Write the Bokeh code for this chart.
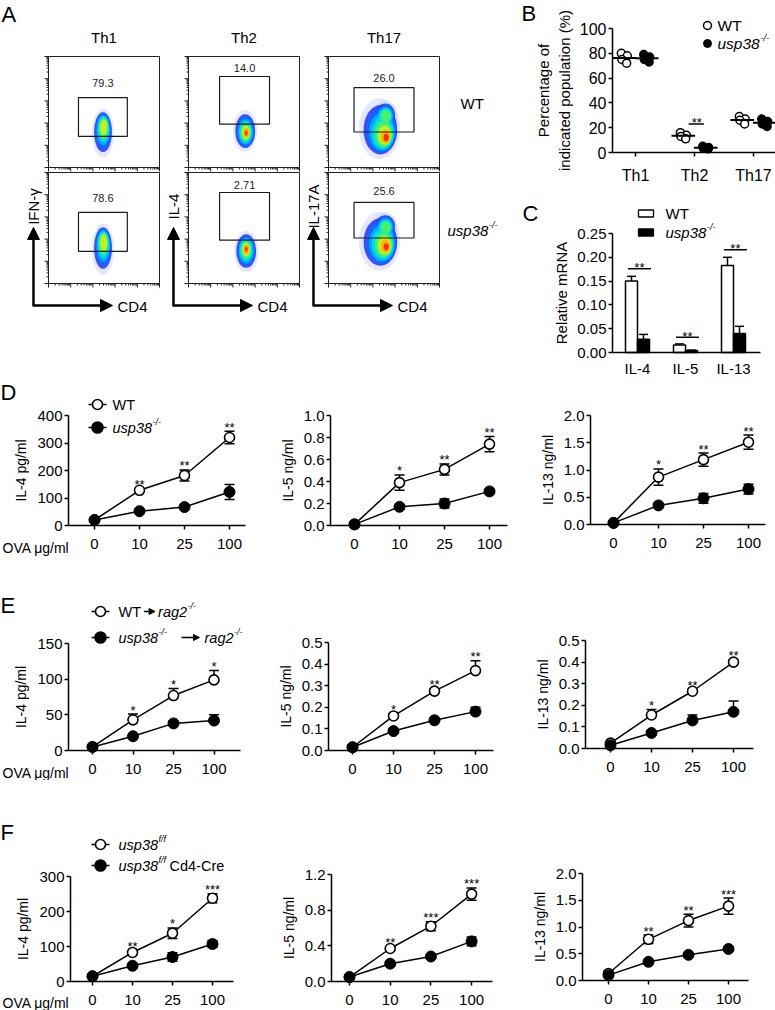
import numpy as np
from bokeh.plotting import figure
from bokeh.layouts import row, column
from bokeh.models import (Range1d, FixedTicker, NumeralTickFormatter, Label, Arrow,
                          NormalHead, TeeHead, Whisker, ColumnDataSource)
from bokeh.core.properties import value
from bokeh.embed import file_html
from bokeh.resources import INLINE

FONT = "Liberation Sans"

# ---------------- data ----------------
# Panel A (flow cytometry)
a_cols = ["Th1", "Th2", "Th17"]
a_gate_labels = [["79.3", "14.0", "26.0"], ["78.6", "2.71", "25.6"]]
a_gate_x = [[0.27, 0.71], [0.28, 0.73], [0.23, 0.77]]
a_gate_y = [[[0.28, 0.63], [0.39, 0.82], [0.32, 0.72]],
            [[0.29, 0.64], [0.39, 0.82], [0.41, 0.73]]]
a_label_y = [[0.76, 0.90, 0.81], [0.77, 0.89, 0.83]]
a_y_labels = ["IFN-γ", "IL-4", "IL-17A"]
# clusters: (centre u, centre v, radius u, radius v, core u, core v, levels)
a_clusters = [
    [[(0.49, 0.31, 0.09, 0.20, 0.50, 0.38, 7)],
     [(0.51, 0.33, 0.10, 0.17, 0.52, 0.31, 9)],
     [(0.46, 0.35, 0.17, 0.25, 0.52, 0.27, 9), (0.51, 0.47, 0.10, 0.12, 0.52, 0.46, 6)]],
    [[(0.49, 0.31, 0.09, 0.21, 0.50, 0.39, 7)],
     [(0.52, 0.29, 0.10, 0.17, 0.52, 0.31, 9)],
     [(0.46, 0.38, 0.17, 0.24, 0.52, 0.33, 9), (0.51, 0.52, 0.10, 0.11, 0.52, 0.50, 6)]],
]

# Panel B
b_groups = ["Th1", "Th2", "Th17"]
b_wt = [[80, 78, 75, 72], [16, 14, 13, 11], [29, 27, 26, 23]]
b_ko = [[79, 77, 75, 73], [5, 4, 3.5, 3], [27, 25, 23, 21]]
b_sig_y = 23

# Panel C
c_genes = ["IL-4", "IL-5", "IL-13"]
c_wt = [0.150, 0.016, 0.183]
c_wt_err = [0.010, 0.002, 0.017]
c_ko = [0.028, 0.004, 0.040]
c_ko_err = [0.010, 0.001, 0.015]
c_sig_y = [0.176, 0.032, 0.216]

# Panels D-F
doses = ["0", "10", "25", "100"]
d_il4_wt = [20, 128, 182, 320]; d_il4_wt_err = [5, 5, 20, 23]
d_il4_ko = [20, 52, 67, 122]; d_il4_ko_err = [4, 5, 6, 27]
d_il5_wt = [0.01, 0.39, 0.51, 0.74]; d_il5_wt_err = [0.01, 0.07, 0.05, 0.07]
d_il5_ko = [0.01, 0.17, 0.20, 0.31]; d_il5_ko_err = [0.01, 0.02, 0.04, 0.02]
d_il13_wt = [0.03, 0.87, 1.19, 1.51]; d_il13_wt_err = [0.02, 0.15, 0.12, 0.13]
d_il13_ko = [0.03, 0.35, 0.48, 0.65]; d_il13_ko_err = [0.02, 0.03, 0.09, 0.09]
d_stars = [["", "**", "**", "**"], ["", "*", "**", "**"], ["", "*", "**", "**"]]

e_il4_wt = [5, 43, 77, 99]; e_il4_wt_err = [2, 8, 10, 13]
e_il4_ko = [5, 20, 38, 42]; e_il4_ko_err = [2, 3, 3, 8]
e_il5_wt = [0.015, 0.16, 0.275, 0.37]; e_il5_wt_err = [0.005, 0.01, 0.01, 0.045]
e_il5_ko = [0.015, 0.09, 0.14, 0.18]; e_il5_ko_err = [0.005, 0.01, 0.01, 0.02]
e_il13_wt = [0.025, 0.155, 0.265, 0.40]; e_il13_wt_err = [0.005, 0.025, 0.01, 0.01]
e_il13_ko = [0.015, 0.072, 0.13, 0.17]; e_il13_ko_err = [0.005, 0.01, 0.025, 0.05]
e_stars = [["", "*", "*", "*"], ["", "*", "**", "**"], ["", "*", "**", "**"]]

f_il4_wt = [15, 83, 138, 238]; f_il4_wt_err = [3, 5, 15, 13]
f_il4_ko = [15, 45, 70, 107]; f_il4_ko_err = [3, 4, 12, 10]
f_il5_wt = [0.05, 0.37, 0.62, 0.98]; f_il5_wt_err = [0.01, 0.02, 0.05, 0.07]
f_il5_ko = [0.05, 0.20, 0.28, 0.45]; f_il5_ko_err = [0.01, 0.02, 0.02, 0.05]
f_il13_wt = [0.13, 0.77, 1.12, 1.39]; f_il13_wt_err = [0.05, 0.08, 0.12, 0.15]
f_il13_ko = [0.10, 0.35, 0.48, 0.59]; f_il13_ko_err = [0.03, 0.03, 0.03, 0.03]
f_stars = [["", "**", "*", "***"], ["", "**", "***", "***"], ["", "**", "**", "***"]]

# ---------------- helpers ----------------
AW = {'u': 556, 's': 500, 'p': 556, '3': 556, '8': 556, 'W': 944, 'T': 611, 'r': 333,
      'a': 556, 'g': 556, '2': 556, 'C': 722, 'd': 556, '4': 556, '-': 333, 'e': 556,
      '/': 278, 'f': 278, ' ': 278}


def tw(s, size):
    return sum(AW.get(ch, 556) for ch in s) / 1000.0 * size


def put_text(p, x, y, text, size, italic=False, align="left", baseline="middle", angle=0.0):
    p.add_layout(Label(x=x, y=y, text=text, text_font=FONT, text_font_size=f"{size}px",
                       text_font_style="italic" if italic else "normal", text_color="black",
                       text_align=align, text_baseline=baseline, angle=angle))


def rich(p, X, Y, sx, sy, parts, size):
    cx = sx
    for item, italic, kind in parts:
        if kind == "n":
            put_text(p, X(cx), Y(sy), item, size, italic)
            cx += tw(item, size)
        elif kind == "s":
            ss = round(size * 0.62, 1)
            put_text(p, X(cx + 0.5), Y(sy - size * 0.36), item, ss, italic)
            cx += tw(item, ss) + 1
        elif kind == "g":
            cx += item
        elif kind == "a":
            p.add_layout(Arrow(end=NormalHead(size=6, fill_color="black", line_color="black"),
                               x_start=X(cx), y_start=Y(sy), x_end=X(cx + item), y_end=Y(sy),
                               line_color="black", line_width=1.5))
            cx += item


def base_style(p, tick_size="15px", label_size="14px"):
    p.grid.visible = False
    p.outline_line_color = None
    p.background_fill_color = "white"
    p.border_fill_color = "white"
    for ax in p.axis:
        ax.axis_line_color = "black"
        ax.axis_line_width = 1.5
        ax.major_tick_line_color = "black"
        ax.major_tick_line_width = 1.5
        ax.major_tick_in = 0
        ax.major_tick_out = 4
        ax.minor_tick_line_color = None
        ax.major_label_text_font = FONT
        ax.major_label_text_font_size = tick_size
        ax.major_label_text_color = "black"
        ax.axis_label_text_font = FONT
        ax.axis_label_text_font_size = label_size
        ax.axis_label_text_font_style = "normal"
        ax.axis_label_text_color = "black"
        ax.major_label_standoff = 2
        ax.axis_label_standoff = 5


def chart(ox, oy, W, H, sxa, sy0, syt, sx0, dx, sxe, ytop, tick_size="15px", label_size="14px"):
    """Figure whose frame fills the whole canvas; axes sit at fixed data locations."""
    ky = (sy0 - syt) / ytop

    def X(sx):
        return (sx - sx0) / dx

    def Y(sy):
        return (sy0 - sy) / ky

    p = figure(width=W, height=H, output_backend="svg", toolbar_location=None,
               x_range=Range1d(X(ox), X(ox + W)), y_range=Range1d(Y(oy + H), Y(oy)),
               min_border_left=0, min_border_right=0, min_border_top=0, min_border_bottom=0)
    base_style(p, tick_size, label_size)
    p.xaxis.fixed_location = 0
    p.xaxis.bounds = (X(sxa), X(sxe))
    p.yaxis.fixed_location = X(sxa)
    p.yaxis.bounds = (0, ytop)
    return p, X, Y


def line_chart(ox, oy, W, H, sxa, sy0, syt, sx0, dx, sxe, ytop, yticks, yfmt, ylabel,
               wt, wt_err, ko, ko_err, stars, both, xstand):
    p, X, Y = chart(ox, oy, W, H, sxa, sy0, syt, sx0, dx, sxe, ytop)
    xs = list(range(len(doses)))
    p.xaxis.ticker = FixedTicker(ticks=xs)
    p.xaxis.major_label_overrides = {i: d for i, d in enumerate(doses)}
    p.xaxis.major_label_standoff = xstand
    p.yaxis.ticker = FixedTicker(ticks=yticks)
    p.yaxis.formatter = NumeralTickFormatter(format=yfmt)
    p.yaxis.axis_label = ylabel
    for vals, errs in ((wt, wt_err), (ko, ko_err)):
        lower = [v - e for v, e in zip(vals, errs)] if both else list(vals)
        upper = [v + e for v, e in zip(vals, errs)]
        src = ColumnDataSource(dict(x=xs, lower=lower, upper=upper))
        p.add_layout(Whisker(source=src, base="x", lower="lower", upper="upper",
                             dimension="height", line_color="black", line_width=1.5,
                             upper_head=TeeHead(size=10, line_width=1.5, line_color="black"),
                             lower_head=TeeHead(size=10, line_width=1.5, line_color="black") if both else None))
    p.line(xs, wt, line_color="black", line_width=1.5)
    p.line(xs, ko, line_color="black", line_width=1.5)
    p.scatter(xs, wt, marker="circle", size=10, fill_color="white", line_color="black", line_width=1.6)
    p.scatter(xs, ko, marker="circle", size=11, fill_color="black", line_color="black")
    p.text(x=xs, y=[v + e for v, e in zip(wt, wt_err)], text=stars, text_font=value(FONT),
           text_font_size=value("13px"), text_align="center", text_baseline="alphabetic",
           y_offset=-4, text_color="black")
    return p, X, Y


def line_legend(p, X, Y, mx, tx, rows_, size=14.5):
    for my, filled, parts in rows_:
        p.segment(x0=[X(mx - 9)], x1=[X(mx + 9)], y0=[Y(my)], y1=[Y(my)],
                  line_color="black", line_width=1.5)
        p.scatter([X(mx)], [Y(my)], marker="circle", size=11 if filled else 10,
                  fill_color="black" if filled else "white", line_color="black", line_width=1.6)
        rich(p, X, Y, tx, my, parts, size)


# ---------------- Panel A ----------------
S = 111
a_left = [48, 188, 328]
a_top = [56, 172]
A_W, A_H = 500, 380


def AX(sx):
    return sx


def AY(sy):
    return A_H - sy


pa = figure(width=A_W, height=A_H, x_range=Range1d(0, A_W), y_range=Range1d(0, A_H),
            x_axis_type=None, y_axis_type=None, output_backend="svg", toolbar_location=None,
            min_border_left=0, min_border_right=0, min_border_top=0, min_border_bottom=0)
pa.grid.visible = False
pa.outline_line_color = None
pa.background_fill_color = "white"
pa.border_fill_color = "white"

PAL = ["#c4caff", "#2a3cff", "#0a6cff", "#00b0ff", "#00e4d8", "#4cf06a", "#c6f020", "#ffb000", "#ff2a00"]
ALP = [0.45, 0.9, 0.92, 0.95, 0.95, 0.95, 0.95, 0.95, 0.95]

maj = list(np.linspace(0, 1, 6))
mnr = [d * 0.2 + np.log10(k) * 0.2 for d in range(5) for k in range(2, 10)]

for r in range(2):
    for c in range(3):
        L = a_left[c]
        T = a_top[r]

        def U(u, L=L):
            return AX(L + u * S)

        def V(v, T=T):
            return AY(T + S - v * S)

        blobs = a_clusters[r][c]
        for k in range(9):
            xs, ys, ws, hs = [], [], [], []
            for (cu, cv, ru, rv, ku, kv, n) in blobs:
                if k < n:
                    t = k / 8.0
                    f = 1.1 if k == 0 else 1 - 0.86 * t
                    xs.append(U(cu + (ku - cu) * t))
                    ys.append(V(cv + (kv - cv) * t))
                    ws.append(2 * ru * S * f)
                    hs.append(2 * rv * S * f)
            if xs:
                pa.ellipse(x=xs, y=ys, width=ws, height=hs, fill_color=PAL[k],
                           fill_alpha=ALP[k], line_color=None)
        pa.quad(left=[AX(L)], right=[AX(L + S)], top=[AY(T)], bottom=[AY(T + S)],
                fill_color=None, line_color="#222222", line_width=1)
        tl = [4] * len(maj) + [2] * len(mnr)
        pos = maj + mnr
        pa.segment(x0=[AX(L)] * len(pos), x1=[AX(L) - t for t in tl],
                   y0=[V(v) for v in pos], y1=[V(v) for v in pos], line_color="#222222", line_width=1)
        pa.segment(x0=[U(u) for u in pos], x1=[U(u) for u in pos],
                   y0=[AY(T + S)] * len(pos), y1=[AY(T + S) - t for t in tl],
                   line_color="#222222", line_width=1)
        gx0, gx1 = a_gate_x[c]
        gy0, gy1 = a_gate_y[r][c]
        pa.quad(left=[U(gx0)], right=[U(gx1)], bottom=[V(gy0)], top=[V(gy1)],
                fill_color=None, line_color="#1a1a1a", line_width=1.2)
        pa.text(x=[U((gx0 + gx1) / 2)], y=[V(a_label_y[r][c])], text=[a_gate_labels[r][c]],
                text_font=value(FONT), text_font_size=value("11px"), text_align="center",
                text_baseline="middle", text_color="#222222")

for c in range(3):
    L = a_left[c]
    put_text(pa, AX(L + S / 2), AY(37), a_cols[c], 15, align="center")
    axx = L - 15
    pa.add_layout(Arrow(end=NormalHead(size=12, fill_color="black", line_color="black"),
                        x_start=AX(axx), y_start=AY(305), x_end=AX(axx), y_end=AY(227),
                        line_color="black", line_width=2.5))
    pa.add_layout(Arrow(end=NormalHead(size=12, fill_color="black", line_color="black"),
                        x_start=AX(axx - 1), y_start=AY(305), x_end=AX(L + 64), y_end=AY(305),
                        line_color="black", line_width=2.5))
    put_text(pa, AX(L + 69), AY(306), "CD4", 15)
    put_text(pa, AX(axx), AY(206), a_y_labels[c], 15, align="center", angle=np.pi / 2)

put_text(pa, AX(460), AY(103), "WT", 15)
rich(pa, AX, AY, 447, 230, [("usp38", True, "n"), ("-/-", True, "s")], 15)
put_text(pa, AX(1), AY(1), "A", 22, baseline="top")

# ---------------- Panel B ----------------
pb, BX, BY = chart(500, 0, 275, 190, 612, 152, 28, 635, 59, 775, 100, "16px", "15px")
pb.xaxis.ticker = FixedTicker(ticks=[0, 1, 2])
pb.xaxis.major_label_overrides = {i: g for i, g in enumerate(b_groups)}
pb.xaxis.major_label_standoff = 10
pb.yaxis.ticker = FixedTicker(ticks=[0, 20, 40, 60, 80, 100])
pb.yaxis.formatter = NumeralTickFormatter(format="0")
pb.yaxis.axis_label = "Percentage of\nindicated population (%)"
pb.yaxis.axis_label_standoff = 4

jit = [-0.05, 0.05, -0.04, 0.04]
for gi in range(3):
    for vals, off, filled in ((b_wt[gi], -0.19, False), (b_ko[gi], 0.19, True)):
        xs = [gi + off + jit[j] for j in range(len(vals))]
        pb.scatter(xs, vals, marker="circle", size=8, fill_color="black" if filled else "white",
                   line_color="black", line_width=1.5)
        m = float(np.mean(vals))
        pb.segment(x0=[gi + off - 0.2], x1=[gi + off + 0.2], y0=[m], y1=[m], line_color="black", line_width=2)
pb.segment(x0=[1 - 0.1], x1=[1 + 0.16], y0=[b_sig_y], y1=[b_sig_y], line_color="black", line_width=1.5)
pb.text(x=[1 + 0.04], y=[b_sig_y], text=["**"], text_font=value(FONT), text_font_size=value("13px"),
        text_align="center", text_baseline="alphabetic", y_offset=-1, text_color="black")
pb.scatter([BX(707)], [BY(25)], marker="circle", size=8, fill_color="white", line_color="black", line_width=1.5)
pb.scatter([BX(707)], [BY(43)], marker="circle", size=8, fill_color="black", line_color="black")
rich(pb, BX, BY, 717, 25, [("WT", False, "n")], 15.5)
rich(pb, BX, BY, 717, 43, [("usp38", True, "n"), ("-/-", True, "s")], 15.5)
put_text(pb, BX(521), BY(0), "B", 22, baseline="top")

# ---------------- Panel C ----------------
pc, CX, CY = chart(500, 190, 275, 190, 612, 352, 233, 637, 48, 760, 0.25, "15px", "15px")
pc.xaxis.ticker = FixedTicker(ticks=[0, 1, 2])
pc.xaxis.major_label_overrides = {i: g for i, g in enumerate(c_genes)}
pc.xaxis.major_tick_out = 0
pc.xaxis.major_label_standoff = 7
pc.yaxis.ticker = FixedTicker(ticks=[0, 0.05, 0.10, 0.15, 0.20, 0.25])
pc.yaxis.formatter = NumeralTickFormatter(format="0.00")
pc.yaxis.axis_label = "Relative mRNA"
pc.yaxis.axis_label_standoff = 4
cx = [0, 1, 2]
for vals, errs, off, col in ((c_wt, c_wt_err, -0.125, "white"), (c_ko, c_ko_err, 0.125, "black")):
    xs = [i + off for i in cx]
    src = ColumnDataSource(dict(x=xs, lower=list(vals), upper=[v + e for v, e in zip(vals, errs)]))
    pc.add_layout(Whisker(source=src, base="x", lower="lower", upper="upper", dimension="height",
                          line_color="black", line_width=1.5, lower_head=None,
                          upper_head=TeeHead(size=9, line_width=1.5, line_color="black")))
    pc.vbar(x=xs, width=0.25, top=vals, bottom=0, fill_color=col, line_color="black", line_width=1.5)
pc.segment(x0=[i - 0.2 for i in cx], x1=[i + 0.28 for i in cx], y0=c_sig_y, y1=c_sig_y,
           line_color="black", line_width=1.5)
pc.text(x=[i + 0.04 for i in cx], y=c_sig_y, text=["**"] * 3, text_font=value(FONT),
        text_font_size=value("13px"), text_align="center", text_baseline="alphabetic",
        y_offset=-1, text_color="black")
pc.rect(x=[CX(645.5)], y=[CY(213)], width=15 / 48, height=7 * 0.25 / 119, fill_color="white",
        line_color="black", line_width=1.3)
pc.rect(x=[CX(645.5)], y=[CY(232)], width=15 / 48, height=7 * 0.25 / 119, fill_color="black",
        line_color="black", line_width=1.3)
rich(pc, CX, CY, 665, 213, [("WT", False, "n")], 15)
rich(pc, CX, CY, 665, 232, [("usp38", True, "n"), ("-/-", True, "s")], 15)
put_text(pc, CX(522), CY(213), "C", 22)

# ---------------- Panel D ----------------
dY, dH = 380, 178
d1, X1, Y1 = line_chart(0, dY, 268, dH, 68, 525, 415, 94, 45, 245, 400, [0, 100, 200, 300, 400], "0",
                        "IL-4 pg/ml", d_il4_wt, d_il4_wt_err, d_il4_ko, d_il4_ko_err, d_stars[0], True, 9)
d2, _, _ = line_chart(268, dY, 260, dH, 330, 525, 415, 354, 45, 507, 1.0, [0, 0.2, 0.4, 0.6, 0.8, 1.0], "0.0",
                      "IL-5 ng/ml", d_il5_wt, d_il5_wt_err, d_il5_ko, d_il5_ko_err, d_stars[1], True, 9)
d3, _, _ = line_chart(528, dY, 247, dH, 590, 524, 415, 613, 45, 765, 2.0, [0, 0.5, 1.0, 1.5, 2.0], "0.0",
                      "IL-13 ng/ml", d_il13_wt, d_il13_wt_err, d_il13_ko, d_il13_ko_err, d_stars[2], True, 9)
line_legend(d1, X1, Y1, 97, 112, [(404, False, [("WT", False, "n")]),
                                   (427, True, [("usp38", True, "n"), ("-/-", True, "s")])])
put_text(d1, X1(2), Y1(547), "OVA μg/ml", 14)
put_text(d1, X1(0), Y1(392), "D", 22)

# ---------------- Panel E ----------------
eY, eH = 558, 222
e1, EX1, EY1 = line_chart(0, eY, 268, eH, 68, 750, 643, 92, 40.5, 240, 150, [0, 50, 100, 150], "0",
                          "IL-4 pg/ml", e_il4_wt, e_il4_wt_err, e_il4_ko, e_il4_ko_err, e_stars[0], False, 9)
e2, _, _ = line_chart(268, eY, 260, eH, 328, 750, 642, 352, 41, 493, 0.5, [0, 0.1, 0.2, 0.3, 0.4, 0.5], "0.0",
                      "IL-5 ng/ml", e_il5_wt, e_il5_wt_err, e_il5_ko, e_il5_ko_err, e_stars[1], False, 9)
e3, _, _ = line_chart(528, eY, 247, eH, 585, 748, 640, 610, 41, 753, 0.5, [0, 0.1, 0.2, 0.3, 0.4, 0.5], "0.0",
                      "IL-13 ng/ml", e_il13_wt, e_il13_wt_err, e_il13_ko, e_il13_ko_err, e_stars[2], False, 9)
line_legend(e1, EX1, EY1, 100, 118, [
    (611, False, [("WT", False, "n"), (3, None, "g"), (11, None, "a"), (3, None, "g"),
                  ("rag2", True, "n"), ("-/-", True, "s")]),
    (637, True, [("usp38", True, "n"), ("-/-", True, "s"), (14, None, "g"), (18, None, "a"),
                 (5, None, "g"), ("rag2", True, "n"), ("-/-", True, "s")])])
put_text(e1, EX1(2), EY1(772), "OVA μg/ml", 14)
put_text(e1, EX1(0), EY1(605), "E", 22)

# ---------------- Panel F ----------------
fY, fH = 780, 230
f1, FX1, FY1 = line_chart(0, fY, 268, fH, 70, 981, 876, 92, 40, 233, 300, [0, 100, 200, 300], "0",
                          "IL-4 pg/ml", f_il4_wt, f_il4_wt_err, f_il4_ko, f_il4_ko_err, f_stars[0], True, 9)
f2, _, _ = line_chart(268, fY, 260, fH, 331, 981, 874, 349, 40.7, 492, 1.2, [0, 0.4, 0.8, 1.2], "0.0",
                      "IL-5 ng/ml", f_il5_wt, f_il5_wt_err, f_il5_ko, f_il5_ko_err, f_stars[1], True, 9)
f3, _, _ = line_chart(528, fY, 247, fH, 582, 980, 873, 608, 40, 748, 2.0, [0, 0.5, 1.0, 1.5, 2.0], "0.0",
                      "IL-13 ng/ml", f_il13_wt, f_il13_wt_err, f_il13_ko, f_il13_ko_err, f_stars[2], True, 9)
line_legend(f1, FX1, FY1, 100, 118, [
    (844, False, [("usp38", True, "n"), ("f/f", True, "s")]),
    (865, True, [("usp38", True, "n"), ("f/f", True, "s"), (3, None, "g"), ("Cd4-Cre", False, "n")])])
put_text(f1, FX1(2), FY1(1002), "OVA μg/ml", 14)
put_text(f1, FX1(0), FY1(832), "F", 22)

layout = column(
    row(pa, column(pb, pc, spacing=0), spacing=0),
    row(d1, d2, d3, spacing=0),
    row(e1, e2, e3, spacing=0),
    row(f1, f2, f3, spacing=0),
    spacing=0,
)

with open("out.html", "w") as fh:
    fh.write(file_html(layout, INLINE))
